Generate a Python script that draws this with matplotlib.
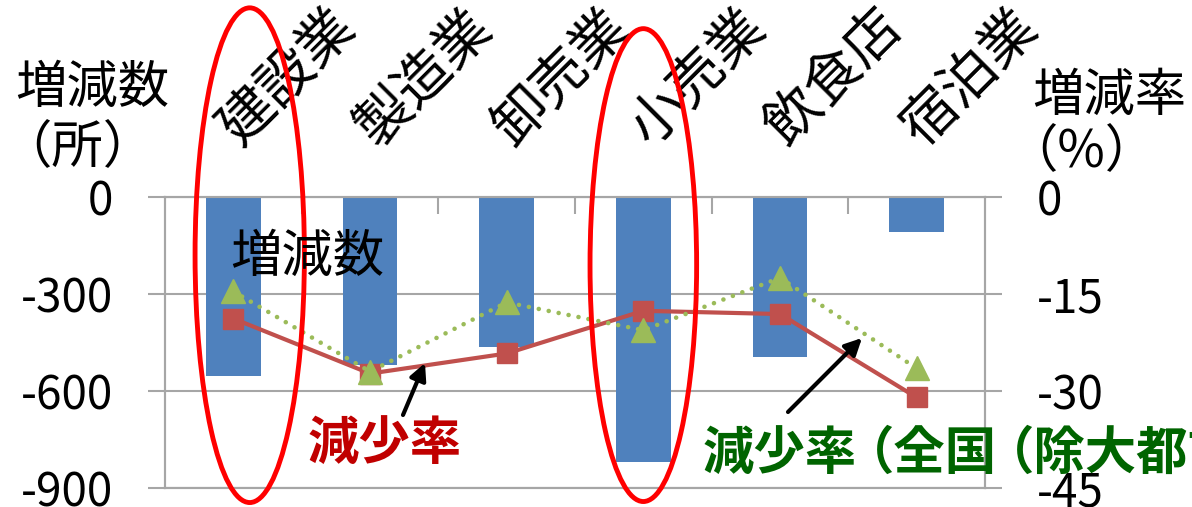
import matplotlib
matplotlib.use('Agg')
import matplotlib.pyplot as plt
import matplotlib.transforms as mtransforms
from matplotlib.patches import Ellipse

plt.rcParams['font.family'] = ['Noto Sans CJK JP', 'DejaVu Sans']
plt.rcParams['axes.unicode_minus'] = False

# 業種別の事業所数の増減と増減率
industries = ['建設業', '製造業', '卸売業', '小売業', '飲食店', '宿泊業']
change_count = [-555, -520, -463, -819, -494, -109]           # 増減数（所）
decline_rate = [-18.8, -27.3, -24.2, -17.6, -18.1, -31.0]     # 減少率（%）
decline_rate_natl = [-14.6, -27.0, -16.3, -20.6, -12.5, -26.5]  # 減少率（全国（除大都市））
left_ticks = [0, -300, -600, -900]
right_ticks = [0, -15, -30, -45]

W, H = 1192, 507
fig = plt.figure(figsize=(W / 100, H / 100), dpi=100)
ax = fig.add_axes([165 / W, 19 / H, 820 / W, 291 / H])
ax2 = ax.twinx()

grey = '#A6A6A6'
x = list(range(len(industries)))

ax.bar(x, change_count, width=0.4, color='#4F81BD', zorder=2)
ax.set_xlim(-0.5, len(industries) - 0.5)
ax.set_ylim(left_ticks[-1], left_ticks[0])
ax.set_yticks(left_ticks)
ax2.set_ylim(right_ticks[-1], right_ticks[0])
ax2.set_yticks(right_ticks)

ax.set_axisbelow(True)
ax.yaxis.grid(True, color=grey, linewidth=1.5)

# category separators hang down from the top edge
ax.set_xticks([i + 0.5 for i in x[:-1]])
ax.tick_params(axis='x', which='both', top=True, bottom=False, direction='in',
               length=12, width=1.5, color=grey, labelbottom=False, labeltop=False)
ax.tick_params(axis='y', direction='out', length=12, width=1.5, color=grey,
               labelsize=33, pad=25)
ax2.tick_params(axis='y', direction='out', length=12, width=1.5, color=grey,
                labelsize=33, pad=25)
for a in (ax, ax2):
    for sp in a.spines.values():
        sp.set_color(grey)
        sp.set_linewidth(1.5)

ax2.plot(x, decline_rate, color='#C0504D', linewidth=3, marker='s',
         markersize=15, zorder=3)
ax2.plot(x, decline_rate_natl, color='#9BBB59', linewidth=3.3,
         linestyle=(0, (0.01, 2.2)), dash_capstyle='round', marker='^',
         markersize=17, zorder=4)

# rotated category names above the plot
for i, name in enumerate(industries):
    ax2.annotate(name, xy=(i, 1), xycoords=('data', 'axes fraction'),
                 xytext=(16, 40), textcoords='offset pixels', rotation=45,
                 rotation_mode='anchor', ha='left', va='bottom', fontsize=40,
                 annotation_clip=False)

fig.text(15 / W, 1 - 88 / H, '増減数', fontsize=37, ha='left', va='center')
fig.text(0, 1 - 148 / H, '（所）', fontsize=37, ha='left', va='center')
fig.text(1032 / W, 1 - 96 / H, '増減率', fontsize=37, ha='left', va='center')
fig.text(1006 / W, 1 - 152 / H, '（%）', fontsize=37, ha='left', va='center')

# series labels and arrows
fig.text(230 / W, 1 - 257 / H, '増減数', fontsize=37, ha='left', va='center', zorder=6)
fig.text(308 / W, 1 - 443 / H, '減少率', fontsize=37, fontweight='bold',
         color='#C00000', ha='left', va='center', zorder=6)

# green label: pieces laid side by side, full-width brackets packed tight
renderer = fig.canvas.get_renderer()
cursor = 703
for piece in ['減少率', '（全国', '（除大都市））']:
    if piece.startswith('（'):
        cursor -= 14
    t = fig.text(cursor / W, 1 - 453 / H, piece, fontsize=37, fontweight='bold',
                 color='#006400', ha='left', va='center', zorder=6)
    cursor += t.get_window_extent(renderer).width

arrow = dict(arrowstyle='-|>', color='black', lw=3, mutation_scale=25,
             shrinkA=0, shrinkB=0)
ax2.annotate('', xy=(425 / W, 1 - 363 / H), xytext=(403 / W, 1 - 415 / H),
             xycoords='figure fraction', arrowprops=arrow, zorder=6)
ax2.annotate('', xy=(862 / W, 1 - 338 / H), xytext=(788 / W, 1 - 412 / H),
             xycoords='figure fraction', arrowprops=arrow, zorder=6)

# highlight rings around 建設業 and 小売業
trans = mtransforms.blended_transform_factory(ax2.transData, ax2.transAxes)
for cx, cy, w, h in [(0.12, 0.80, 0.80, 1.70), (3.0, 0.766, 0.78, 1.625)]:
    ax2.add_patch(Ellipse((cx, cy), w, h, transform=trans, fill=False,
                          edgecolor='#FF0000', linewidth=3.5, clip_on=False,
                          zorder=7))

fig.savefig('out.png', dpi=100)
